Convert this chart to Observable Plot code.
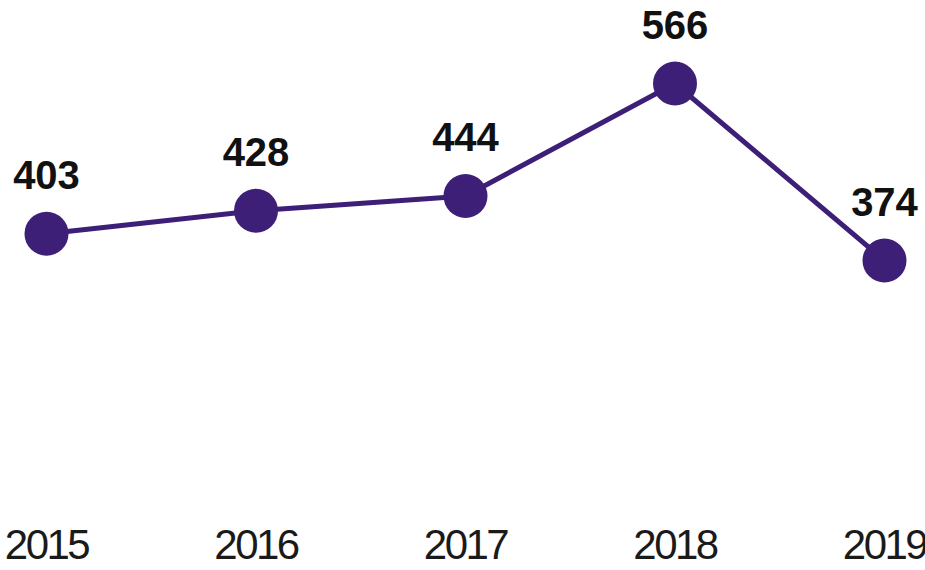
<!DOCTYPE html>
<html>
<head>
<meta charset="utf-8">
<script src="https://cdn.jsdelivr.net/npm/d3@7"></script>
<script src="https://cdn.jsdelivr.net/npm/@observablehq/plot@0.6"></script>
<style>
  html, body { margin: 0; padding: 0; background: #ffffff; }
  #chart { width: 925px; height: 570px; }
  g[aria-label="x-axis tick label"] text { letter-spacing: -2.5px; }
</style>
</head>
<body>
<div id="chart"></div>
<script>
const years = [2015, 2016, 2017, 2018, 2019];
const values = [403, 428, 444, 566, 374];
const yearLabels = ["2015", "2016", "2017", "2018", "2019"];

const data = years.map((year, i) => ({year, value: values[i]}));
const purple = "#3d1f78";

const chart = Plot.plot({
  width: 925,
  height: 570,
  marginLeft: 46,
  marginRight: 41,
  marginTop: 52,
  marginBottom: 57,
  style: {background: "#ffffff", overflow: "visible"},
  x: {domain: [2015, 2019], axis: null},
  y: {domain: [374, 566], range: [260, 83], axis: null},
  marks: [
    Plot.axisX({
      ticks: years,
      tickFormat: d => yearLabels[years.indexOf(d)],
      tickSize: 0,
      tickPadding: 16,
      fontSize: 42,
      fontFamily: "'Liberation Sans', Arial, sans-serif",
      fill: "#1a1a1a",
      label: null
    }),
    Plot.line(data, {x: "year", y: "value", stroke: purple, strokeWidth: 5}),
    Plot.dot(data, {x: "year", y: "value", r: 22, fill: purple, stroke: "none"}),
    Plot.text(data, {
      x: "year", y: "value", text: d => String(d.value),
      dy: -45, lineAnchor: "bottom",
      fontSize: 40, fontWeight: "bold",
      fontFamily: "'Liberation Sans', Arial, sans-serif",
      fill: "#111111"
    })
  ]
});
document.getElementById("chart").appendChild(chart);
</script>
</body>
</html>
